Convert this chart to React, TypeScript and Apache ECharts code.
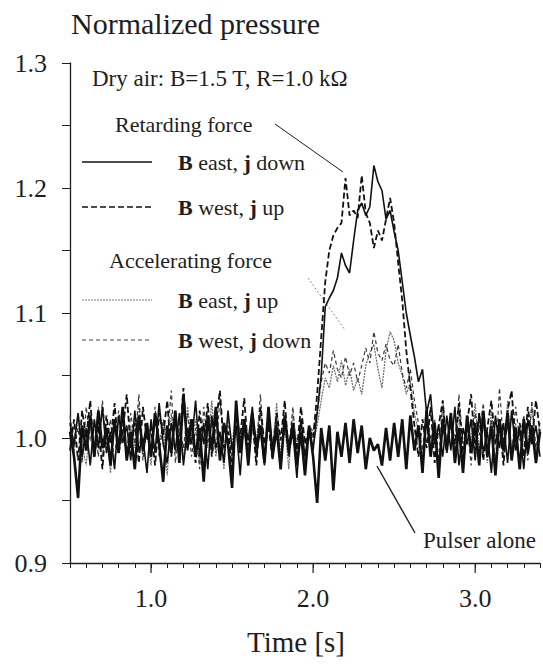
import React, { useEffect, useRef } from "react";
import * as echarts from "echarts";

// Sampling of the traces (time axis, s)
const T_START = 0.5;
const T_STEP = 0.025;

const xTickValues = [1, 2, 3];
const yRange = [0.9, 1.3];
const xRange = [0.5, 3.4];

// Retarding force: B east, j down (solid)
const eastDown = [
  1.012, 0.995, 1.020, 0.985, 1.008, 0.978, 1.015, 0.992, 1.025, 0.988,
  1.005, 0.975, 1.018, 0.996, 1.010, 0.982, 1.022, 0.990, 1.000, 0.972,
  1.015, 0.988, 1.028, 0.995, 0.980, 1.012, 0.990, 1.020, 0.978, 1.008,
  0.995, 1.030, 0.985, 1.012, 0.975, 1.018, 0.992, 1.005, 0.980, 1.022,
  0.990, 1.010, 0.970, 1.015, 0.998, 1.025, 0.985, 1.008, 0.978, 1.020,
  0.992, 1.012, 0.975, 1.018, 0.988, 1.005, 0.968, 1.015, 0.985, 1.008,
  0.990, 1.020, 1.050, 1.105, 1.112, 1.118, 1.128, 1.148, 1.138, 1.132,
  1.158, 1.182, 1.188, 1.178, 1.185, 1.218, 1.205, 1.198, 1.175, 1.182,
  1.165, 1.150, 1.125, 1.100, 1.082, 1.065, 1.045, 1.055, 1.020, 1.035,
  0.995,
  1.010, 0.985, 1.018, 0.990, 1.025, 0.978, 1.008, 0.995, 1.015, 0.982,
  1.020, 0.988, 1.005, 0.972, 1.018, 0.992, 1.012, 0.980, 1.022, 0.990,
  1.008, 0.975, 1.015, 0.995, 1.010, 0.985,
];

// Retarding force: B west, j up (dashed)
const westUp = [
  0.990, 1.015, 0.982, 1.022, 1.000, 1.030, 0.985, 1.010, 0.975, 1.018,
  0.995, 1.028, 0.988, 1.005, 1.035, 0.992, 1.012, 0.980, 1.025, 0.998,
  1.008, 0.978, 1.020, 1.002, 1.030, 0.985, 1.015, 0.995, 1.040, 0.990,
  1.010, 0.980, 1.022, 0.995, 1.028, 0.985, 1.012, 1.038, 0.992, 1.005,
  0.975, 1.020, 1.000, 1.032, 0.988, 1.015, 0.978, 1.025, 0.995, 1.010,
  0.982, 1.020, 0.998, 1.030, 0.985, 1.012, 0.990, 1.025, 0.995, 1.008,
  1.000, 1.035, 1.080, 1.125, 1.150, 1.162, 1.168, 1.172, 1.208, 1.178,
  1.182, 1.176, 1.210, 1.180, 1.172, 1.152, 1.166, 1.158, 1.175, 1.192,
  1.172, 1.140, 1.110, 1.070, 1.040, 1.010, 0.985,
  1.015, 0.992, 1.025, 0.980, 1.010, 1.030, 0.988, 1.018, 0.995, 1.028,
  0.985, 1.012, 1.035, 0.990, 1.020, 0.982, 1.008, 1.030, 0.995, 1.015,
  0.978, 1.022, 1.038, 0.992, 1.012, 0.985, 1.025, 0.998, 1.030, 1.005,
];

// Accelerating force: B east, j up (thin grey)
const eastUp = [
  1.005, 0.988, 1.020, 0.995, 0.978, 1.012, 0.990, 1.025, 0.985, 1.008,
  0.972, 1.015, 0.998, 1.022, 0.982, 1.010, 0.992, 1.028, 0.985, 1.005,
  0.978, 1.018, 0.995, 1.012, 0.970, 1.020, 0.988, 1.008, 0.982, 1.025,
  0.998, 1.015, 0.980, 1.010, 0.992, 1.030, 0.985, 1.005, 0.975, 1.018,
  0.995, 1.022, 0.988, 1.012, 0.978, 1.008, 0.998, 1.025, 0.982, 1.015,
  0.990, 1.028, 0.985, 1.010, 0.975, 1.020, 0.995, 1.012, 0.980, 1.005,
  0.995, 1.010, 1.030, 1.048, 1.040, 1.058, 1.045, 1.062, 1.042, 1.055,
  1.038, 1.048, 1.035, 1.058, 1.068, 1.075, 1.055, 1.040, 1.070, 1.085,
  1.078, 1.060, 1.050, 1.035, 1.045, 1.020, 1.005,
  0.985, 1.018, 0.992, 1.010, 0.978, 1.025, 0.995, 1.012, 0.985, 1.020,
  0.975, 1.008, 0.998, 1.028, 0.988, 1.015, 0.980, 1.022, 0.995, 1.010,
  0.985, 1.030, 0.990, 1.012, 0.978, 1.018, 0.995, 1.025, 0.988, 1.008,
];

// Accelerating force: B west, j down (thin dashed)
const westDown = [
  1.018, 0.992, 1.008, 0.980, 1.025, 0.998, 1.012, 0.985, 1.030, 0.995,
  1.015, 0.978, 1.022, 1.002, 0.988, 1.020, 0.995, 1.035, 0.982, 1.010,
  0.990, 1.025, 0.985, 1.015, 0.998, 1.038, 0.980, 1.012, 0.992, 1.020,
  0.985, 1.008, 0.975, 1.025, 0.995, 1.015, 0.988, 1.032, 0.990, 1.010,
  0.982, 1.018, 0.998, 1.008, 0.978, 1.022, 0.992, 1.035, 0.985, 1.012,
  0.995, 1.020, 0.980, 1.008, 0.990, 1.025, 0.985, 1.015, 0.975, 1.010,
  1.005, 1.020, 1.045, 1.060, 1.052, 1.070, 1.055, 1.048, 1.065, 1.050,
  1.060, 1.045, 1.058, 1.072, 1.060, 1.085, 1.068, 1.062, 1.075, 1.062,
  1.058, 1.075, 1.052, 1.040, 1.055, 1.030, 1.012,
  0.990, 1.025, 0.998, 1.015, 0.982, 1.030, 0.992, 1.010, 0.985, 1.035,
  0.995, 1.012, 0.978, 1.020, 1.002, 1.028, 0.988, 1.015, 0.980, 1.040,
  0.995, 1.010, 0.985, 1.025, 0.998, 1.018, 0.982, 1.030, 0.992, 1.012,
];

// Pulser alone (thick)
const pulser = [
  1.005, 0.985, 0.952, 1.010, 0.990, 1.018, 0.985, 1.022, 0.992, 1.008,
  0.978, 1.015, 0.988, 1.025, 0.982, 1.005, 0.975, 1.018, 0.990, 1.012,
  0.985, 1.020, 0.995, 0.965, 1.010, 0.988, 1.022, 0.980, 1.035, 0.992,
  1.015, 0.985, 1.008, 0.965, 1.018, 0.990, 1.025, 0.982, 1.012, 0.995,
  0.960, 1.030, 0.988, 1.015, 0.978, 1.020, 0.992, 1.010, 0.980, 1.025,
  0.985, 1.008, 0.975, 1.018, 0.990, 1.012, 0.978, 1.005, 0.970, 1.010,
  0.985, 0.948, 1.008, 0.982, 1.010, 0.958, 1.005, 0.985, 1.012, 0.980,
  1.015, 0.988, 1.010, 0.975, 1.000, 0.990, 0.995, 0.978, 1.008, 0.982,
  1.012, 0.985, 1.015, 0.975, 1.018, 0.990, 1.010, 0.972, 1.022, 0.985,
  1.012, 0.968, 1.015, 0.990, 1.020, 0.980, 1.008, 0.972, 1.018, 0.988,
  1.012, 0.978, 1.022, 0.985, 1.010, 0.970, 1.015, 0.990, 1.020, 0.982,
  1.008, 0.975, 1.015, 0.988, 1.010, 0.980, 1.005,
];

const FONT = "Liberation Serif";
const INK = "#1e1e1e";

function toPairs(vals: number[]) {
  return vals.map((v, i) => [+(T_START + i * T_STEP).toFixed(3), v]);
}

export default function App() {
  const ref = useRef<HTMLDivElement>(null);

  useEffect(() => {
    if (!ref.current) return;
    const chart = echarts.init(ref.current, undefined, { renderer: "svg" });

    const txt = (x: number, y: number, text: string, size = 22, rich?: any) => ({
      type: "text",
      x,
      y,
      style: {
        text,
        fontSize: size,
        fontFamily: FONT,
        fill: INK,
        verticalAlign: "middle",
        rich,
      },
    });
    const boldRich = {
      b: { fontWeight: "bold", fontSize: 22, fontFamily: FONT, fill: INK },
      n: { fontSize: 22, fontFamily: FONT, fill: INK },
    };
    const seg = (x1: number, y1: number, x2: number, y2: number, style: any) => ({
      type: "line",
      shape: { x1, y1, x2, y2 },
      style: { stroke: INK, lineWidth: 1, ...style },
    });

    const line = (name: string, vals: number[], ls: any, z: number) => ({
      name,
      type: "line",
      data: toPairs(vals),
      showSymbol: false,
      symbol: "none",
      xAxisIndex: 0,
      yAxisIndex: 0,
      lineStyle: ls,
      z,
    });

    const decorations: any[] = [
      txt(92, 78, "Dry air: B=1.5 T, R=1.0 kΩ", 23),
      txt(115, 124, "Retarding force", 22),
      seg(82, 162, 152, 162, { lineWidth: 1.6, stroke: "#111" }),
      txt(178, 162, "{b|B}{n| east, }{b|j}{n| down}", 22, boldRich),
      seg(82, 207, 152, 207, { lineWidth: 1.6, stroke: "#111", lineDash: [6, 3] }),
      txt(178, 207, "{b|B}{n| west, }{b|j}{n| up}", 22, boldRich),
      txt(109, 260, "Accelerating force", 22),
      seg(82, 300, 152, 300, { lineWidth: 1, stroke: "#777", lineDash: [2, 1] }),
      txt(178, 300, "{b|B}{n| east, }{b|j}{n| up}", 22, boldRich),
      seg(82, 340, 152, 340, { lineWidth: 1, stroke: "#444", lineDash: [4, 3] }),
      txt(178, 340, "{b|B}{n| west, }{b|j}{n| down}", 22, boldRich),
      seg(275, 124, 343, 172, { lineWidth: 1 }),
      seg(308, 278, 345, 330, { lineWidth: 1, stroke: "#888", lineDash: [2, 2] }),
      seg(377, 466, 415, 533, { lineWidth: 1.4 }),
      txt(423, 540, "Pulser alone", 23),
    ];

    chart.setOption({
      animation: false,
      title: {
        text: "Normalized pressure",
        left: 66,
        top: 3,
        textStyle: { fontFamily: FONT, fontSize: 30, fontWeight: "normal", color: INK },
      },
      grid: { left: 70, top: 63, width: 473, height: 500 },
      xAxis: [
        {
          // minor ticks every 0.1 s
          type: "value",
          min: xRange[0],
          max: xRange[1],
          interval: 0.1,
          axisLine: { show: true, onZero: false, lineStyle: { color: INK, width: 1.3 } },
          axisTick: { show: true, length: 5, lineStyle: { color: INK, width: 1 } },
          axisLabel: { show: true, formatter: () => "" },
          splitLine: { show: false },
          name: "Time [s]",
          nameLocation: "middle",
          nameGap: 64,
          nameTextStyle: { fontFamily: FONT, fontSize: 29, color: INK, padding: [0, 18, 0, 0] },
        },
        {
          // labels at whole seconds
          type: "value",
          min: xRange[0],
          max: xRange[1],
          position: "bottom",
          axisLine: { show: false, onZero: false },
          axisTick: { show: false },
          axisLabel: {
            show: true,
            customValues: xTickValues,
            formatter: (v: number) => v.toFixed(1),
            fontFamily: FONT,
            fontSize: 26,
            color: INK,
            margin: 22,
          },
          splitLine: { show: false },
        },
      ],
      yAxis: {
        type: "value",
        min: yRange[0],
        max: yRange[1],
        interval: 0.1,
        axisLine: { show: true, lineStyle: { color: INK, width: 1.3 } },
        axisTick: { show: true, length: 8, lineStyle: { color: INK, width: 1 } },
        minorTick: { show: true, splitNumber: 2, length: 8, lineStyle: { color: INK, width: 1 } },
        axisLabel: {
          formatter: (v: number) => v.toFixed(1),
          fontFamily: FONT,
          fontSize: 26,
          color: INK,
          margin: 23,
        },
        splitLine: { show: false },
        minorSplitLine: { show: false },
      },
      series: [
        line("B east, j up", eastUp, { color: "#6a6a6a", width: 1.2, type: [2, 1] }, 2),
        line("B west, j down", westDown, { color: "#3a3a3a", width: 1.2, type: [4, 3] }, 3),
        line("Pulser alone", pulser, { color: "#111", width: 2.6 }, 4),
        line("B west, j up", westUp, { color: "#111", width: 1.8, type: [6, 3] }, 5),
        line("B east, j down", eastDown, { color: "#111", width: 1.6 }, 6),
      ],
      graphic: decorations,
    });

    // Long major ticks at whole seconds, placed through the axis scales
    const yBase = chart.convertToPixel({ yAxisIndex: 0 }, yRange[0]) as number;
    const majorTicks = xTickValues.map((v) => {
      const px = chart.convertToPixel({ xAxisIndex: 0 }, v) as number;
      return seg(px, yBase, px, yBase + 10, { lineWidth: 1.2 });
    });
    chart.setOption({ graphic: [...decorations, ...majorTicks] });

    return () => chart.dispose();
  }, []);

  return (
    <div
      ref={ref}
      style={{ position: "absolute", left: 0, top: 0, width: 543, height: 667, background: "#fff" }}
    />
  );
}
